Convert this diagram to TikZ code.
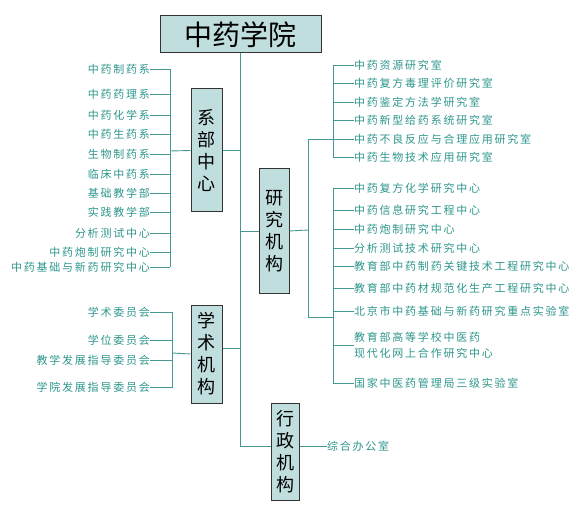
\documentclass[tikz,border=0pt]{standalone}
\usepackage{fontspec}
\newfontfamily\cjk{Noto Sans CJK SC}
\newfontfamily\cjkitem[LetterSpace=16]{Noto Sans CJK SC}
\definecolor{boxfill}{RGB}{192,222,222}
\definecolor{tealtext}{RGB}{45,150,140}
\definecolor{tealline}{RGB}{70,150,150}

\begin{document}
\begin{tikzpicture}[x=1pt,y=-1pt,
    unit/.style={draw=black!80, line width=1pt, fill=boxfill, inner sep=0pt,
      align=center, font=\cjk\fontsize{18}{22}\selectfont},
    item/.style={text=tealtext, inner sep=0pt, align=left,
      font=\cjkitem\fontsize{11}{16}\selectfont},
    link/.style={draw=tealline, line width=0.9pt}]

  \useasboundingbox (0,0) rectangle (587,516);

  \node[unit, minimum width=161pt, minimum height=37pt,
    font=\cjk\fontsize{28}{30}\selectfont] (college) at (240.5,34.5) {中药学院};

  \node[unit, minimum width=31pt, minimum height=123pt] (xibu) at (206.5,150.5) {系\\部\\中\\心};
  \node[unit, minimum width=30pt, minimum height=124pt] (yanjiu) at (274,231) {研\\究\\机\\构};
  \node[unit, minimum width=31pt, minimum height=98pt] (xueshu) at (206.5,354) {学\\术\\机\\构};
  \node[unit, minimum width=28pt, minimum height=97pt] (xingzheng) at (285,451.5) {行\\政\\机\\构};

  % trunk
  \coordinate (t3) at (240.5,348);
  \coordinate (t4) at (240.5,446);
  \draw[link] (college.south) -- (t4) -- (t4 -| xingzheng.west);
  \draw[link] (xibu.east) -- (xibu.east -| college.south);
  \draw[link] (yanjiu.west) -- (yanjiu.west -| college.south);
  \draw[link] (t3) -- (t3 -| xueshu.east);

  % departments
  \coordinate (dbar) at (170,151);
  \foreach \n/\y/\t in {d1/69/中药制药系, d2/94/中药药理系, d3/115/中药化学系,
      d4/134/中药生药系, d5/154/生物制药系, d6/174/临床中药系, d7/193/基础教学部,
      d8/212/实践教学部, d9/233/分析测试中心, d10/252/中药炮制研究中心,
      d11/267/中药基础与新药研究中心}{
    \node[item, anchor=east] (\n) at (150,\y) {\t};
    \draw[link] (\n.east) -- (\n.east -| dbar);
  }
  \draw[link] (d1.east -| dbar) -- (d11.east -| dbar);
  \draw[link] (dbar) -- (xibu.west);

  % research
  \coordinate (rbar) at (308,230);
  \coordinate (rlow) at (308,317);
  \coordinate (gbar) at (333,0);
  \foreach \n/\y/\t in {r1/65/中药资源研究室, r2/83/中药复方毒理评价研究室,
      r3/102/中药鉴定方法学研究室, r4/120/中药新型给药系统研究室,
      r5/139/中药不良反应与合理应用研究室, r6/157/中药生物技术应用研究室,
      r7/188/中药复方化学研究中心, r8/210/中药信息研究工程中心,
      r9/229/中药炮制研究中心, r10/248/分析测试技术研究中心,
      r11/266/教育部中药制药关键技术工程研究中心,
      r12/288/教育部中药材规范化生产工程研究中心,
      r13/311/北京市中药基础与新药研究重点实验室,
      r14/345/教育部高等学校中医药\\现代化网上合作研究中心,
      r15/383/国家中医药管理局三级实验室}{
    \node[item, anchor=west] (\n) at (354,\y) {\t};
    \draw[link] (\n.west) -- (\n.west -| gbar);
  }
  \draw[link] (r1.west -| gbar) -- (r6.west -| gbar);
  \draw[link] (r7.west -| gbar) -- (r15.west -| gbar);
  \draw[link] (r5.west -| gbar) -- (r5.west -| rbar) -- (rlow) -- (rlow -| gbar);
  \draw[link] (yanjiu.east) -- (rbar);

  % academic
  \coordinate (abar) at (172.5,353);
  \foreach \n/\y/\t in {a1/312/学术委员会, a2/340/学位委员会,
      a3/360/教学发展指导委员会, a4/387/学院发展指导委员会}{
    \node[item, anchor=east] (\n) at (150,\y) {\t};
    \draw[link] (\n.east) -- (\n.east -| abar);
  }
  \draw[link] (a1.east -| abar) -- (a4.east -| abar);
  \draw[link] (abar) -- (xueshu.west);

  % administration
  \node[item, anchor=west] (office) at (327,446) {综合办公室};
  \draw[link] (t4 -| xingzheng.east) -- (office.west);
\end{tikzpicture}
\end{document}
